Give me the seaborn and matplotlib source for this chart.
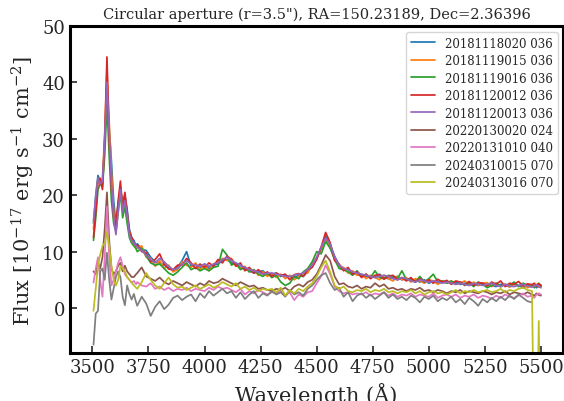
import numpy as np
import pandas as pd
import matplotlib
matplotlib.use("Agg")
import matplotlib.pyplot as plt
import seaborn as sns

nan = np.nan
# wavelength grid (Angstrom)
wave = (list(range(3505, 3700, 10)) + list(range(3700, 5460, 20))
        + [5460, 5470, 5480, 5490, 5500])

labels = ["20181118020 036", "20181119015 036", "20181119016 036",
          "20181120012 036", "20181120013 036", "20220130020 024",
          "20220131010 040", "20240310015 070", "20240313016 070"]

s_20181118020 = [
    15, 20, 23.5, 22.5, 22, 29, 38.5, 32, 26, 19, 15, 18.5, 21, 19, 20, 17.5, 14, 12.5, 12, 11,
    11.4, 10.4, 10.2, 9.0, 8.2, 8.0, 7.6, 7.2, 6.6, 7.2,
    8.4, 10.0, 7.4, 7.8, 7.0, 7.8, 7.0, 7.6, 7.8, 8.4,
    8.6, 8.0, 7.8, 7.2, 7.0, 6.6, 6.2, 6.4, 6.6, 5.8,
    6.0, 6.2, 5.6, 5.8, 5.6, 5.4, 5.8, 5.6, 6.4, 7.4,
    8.8, 10.6, 12.8, 11.2, 9.2, 7.6, 7.0, 6.8, 6.2, 6.0,
    5.8, 5.6, 5.4, 5.6, 6.0, 5.4, 5.2, 5.4, 5.6, 5.0,
    5.2, 4.8, 5.0, 4.6, 5.0, 4.4, 4.8, 4.4, 4.6, 4.8,
    4.4, 4.6, 4.2, 4.4, 4.6, 4.2, 4.0, 4.4, 4.2, 4.0,
    3.8, 4.2, 4.0, 3.8, 4.2, 4.0, 3.6, 4.0,
    3.8, 4.0, 3.6, 3.9, 3.8]

s_20181119015 = [
    14, 19, 23, 22, 23, 31, 42, 33, 24, 17, 14, 18, 21.5, 18, 19, 16, 13.5, 12, 11.5, 10.5,
    10.6, 11.0, 9.0, 8.8, 7.4, 8.4, 7.0, 7.6, 6.4, 6.8,
    8.2, 7.6, 7.2, 8.0, 6.8, 7.6, 6.6, 7.8, 8.2, 8.8,
    8.4, 8.8, 7.6, 7.0, 7.4, 6.4, 6.8, 5.8, 6.4, 5.6,
    6.2, 5.4, 6.0, 5.2, 5.8, 5.0, 5.6, 6.2, 6.2, 7.8,
    9.0, 10.4, 12.2, 10.8, 9.0, 7.2, 7.2, 6.2, 6.6, 5.8,
    6.0, 5.2, 5.8, 5.4, 5.0, 5.8, 5.2, 4.8, 5.6, 5.0,
    5.4, 4.6, 5.2, 4.8, 4.4, 5.0, 4.8, 4.2, 4.8, 4.4,
    4.8, 4.2, 4.4, 4.8, 4.0, 4.6, 4.0, 4.4, 4.5, 3.8,
    4.4, 3.8, 4.2, 3.7, 4.3, 3.9, 4.2, 3.6,
    4.0, 3.8, 4.2, 3.7, 4.1]

s_20181119016 = [
    12, 16, 21, 22, 21.5, 27, 36.5, 27, 19, 15, 13.5, 17, 20.5, 16, 18, 15, 12.5, 11.5, 11, 10.5,
    10.0, 10.6, 9.2, 8.0, 7.6, 7.8, 7.0, 6.2, 5.8, 6.4,
    7.2, 8.0, 6.8, 7.2, 6.6, 7.0, 6.6, 7.2, 7.4, 10.4,
    9.4, 7.6, 8.0, 6.8, 7.2, 6.4, 6.8, 6.0, 5.6, 6.2,
    5.4, 5.8, 4.6, 4.0, 4.4, 5.6, 5.2, 6.4, 7.0, 8.2,
    10.0, 9.6, 11.8, 10.6, 8.6, 7.0, 6.8, 6.4, 5.8, 6.6,
    5.6, 6.0, 5.4, 6.6, 5.4, 5.2, 5.8, 5.6, 5.2, 6.6,
    5.0, 5.2, 4.6, 5.6, 4.6, 5.2, 6.0, 4.6, 4.8, 4.4,
    4.8, 4.2, 4.6, 4.0, 4.4, 3.8, 4.6, 4.2, 3.6, 4.0,
    4.4, 3.8, 4.2, 4.0, 4.6, 3.8, 4.4, 4.0,
    4.2, 3.6, 4.0, 4.4, 3.9]

s_20181120012 = [
    12.5, 17, 22.5, 23, 21, 30, 44.5, 30, 21, 16, 14.5, 19, 22.5, 17.5, 20.5, 17, 13.5, 12.5, 11.5, 11,
    11.2, 10.0, 9.8, 8.2, 8.6, 9.6, 7.8, 6.9, 6.8, 7.6,
    7.6, 8.8, 8.0, 7.0, 7.8, 7.2, 8.0, 7.4, 8.6, 8.0,
    9.2, 8.6, 7.4, 8.0, 6.6, 7.2, 6.2, 6.8, 6.0, 6.4,
    5.6, 6.2, 5.8, 6.0, 5.0, 5.9, 6.1, 5.6, 6.8, 7.2,
    8.6, 10.8, 13.4, 11.6, 8.4, 7.8, 6.6, 7.2, 6.0, 6.4,
    5.4, 6.0, 5.2, 5.8, 5.9, 5.1, 5.6, 5.8, 5.0, 5.4,
    4.8, 5.4, 4.6, 5.2, 4.7, 5.0, 4.4, 5.1, 4.6, 4.9,
    4.2, 4.8, 4.6, 4.1, 4.7, 4.0, 4.5, 4.4, 3.9, 4.6,
    4.2, 4.8, 3.8, 4.4, 4.2, 4.7, 3.9, 4.3,
    4.1, 4.4, 3.9, 4.3, 4.0]

s_20181120013 = [
    15.5, 19.5, 23, 22, 22.5, 30, 40, 31, 22, 16, 13, 17, 21, 17, 19, 16.5, 13, 12, 11.5, 11,
    10.8, 10.2, 9.4, 8.6, 8.0, 8.8, 8.2, 7.4, 6.8, 7.0,
    7.8, 8.4, 7.8, 7.6, 7.4, 7.8, 7.4, 7.8, 8.0, 8.6,
    9.0, 8.4, 8.0, 7.6, 7.2, 6.8, 6.6, 6.4, 6.0, 6.2,
    6.2, 6.0, 5.8, 5.6, 5.6, 5.8, 6.0, 6.2, 6.8, 7.6,
    9.0, 10.8, 12.4, 11.4, 9.0, 7.6, 7.0, 6.8, 6.4, 6.2,
    6.0, 5.8, 5.6, 5.4, 5.6, 5.8, 5.6, 5.2, 5.0, 5.4,
    5.2, 4.8, 4.6, 5.0, 4.8, 4.6, 4.8, 4.6, 4.4, 4.6,
    4.4, 4.2, 4.4, 4.2, 4.0, 4.4, 4.2, 4.0, 4.2, 4.4,
    4.0, 3.8, 4.2, 3.9, 3.8, 4.0, 4.2, 3.9,
    3.7, 3.9, 4.1, 3.8, 3.6]

s_20220130020 = [
    6.5, 6.0, 8.0, 7.0, 9.0, 14.0, 20.5, 12.0, 7.0, 6.0, 6.5, 7.5, 8.0, 6.5, 7.5, 6.5, 6.0, 5.5, 5.5, 6.0,
    6.2, 7.2, 5.6, 5.2, 4.8, 5.4, 4.6, 4.2, 4.8, 4.4,
    4.0, 4.6, 4.2, 3.8, 4.4, 4.0, 4.8, 4.4, 4.6, 5.2,
    4.8, 4.4, 4.0, 4.6, 4.2, 3.8, 4.0, 3.4, 3.6, 3.2,
    3.0, 3.4, 3.2, 3.6, 3.0, 3.8, 4.2, 3.8, 4.6, 5.0,
    6.0, 7.6, 9.4, 8.4, 5.6, 4.2, 4.4, 3.8, 3.6, 4.0,
    3.4, 3.8, 3.6, 4.4, 3.8, 4.2, 3.4, 3.6, 3.2, 3.4,
    3.0, 3.4, 3.2, 3.6, 3.0, 3.2, 2.8, 3.2, 3.0, 2.6,
    3.0, 2.8, 3.2, 2.6, 3.0, 2.8, 2.6, 3.0, 2.8, 2.4,
    2.8, 2.6, 3.0, 2.4, 2.8, 2.6, 2.4, 2.8,
    2.4, 2.2, 2.6, 2.3, 2.2]

s_20220131010 = [
    4.5, 7.0, 9.0, 5.0, 2.0, 9.0, 18.0, 9.0, 4.0, 5.0, 6.5, 8.0, 9.0, 7.5, 6.0, 5.5, 5.0, 4.5, 4.8, 4.2,
    4.6, 4.0, 3.8, 4.4, 3.4, 3.8, 3.2, 3.6, 3.0, 3.4,
    3.2, 3.6, 3.0, 3.4, 3.2, 3.0, 3.6, 3.2, 3.8, 3.4,
    3.6, 3.2, 2.8, 3.4, 2.4, 3.0, 2.6, 3.2, 2.8, 2.4,
    2.8, 2.6, 3.0, 2.2, 2.8, 1.4, 2.4, 2.0, 2.8, 3.0,
    4.4, 5.6, 7.6, 6.0, 3.8, 3.0, 2.6, 2.8, 2.4, 2.6,
    2.4, 2.8, 2.2, 2.6, 2.4, 2.8, 2.2, 2.6, 2.0, 2.4,
    2.2, 2.6, 2.0, 2.4, 2.2, 2.0, 2.6, 1.8, 2.2, 2.4,
    2.0, 2.4, 1.8, 2.2, 2.0, 2.4, 1.8, 2.2, 2.0, 1.6,
    2.2, 1.8, 2.4, 2.0, 1.8, 2.2, 2.6, 2.0,
    2.2, 1.8, 2.4, 2.6, 2.4]

s_20240310015 = [
    -6.5, -1.0, -0.5, 6.5, 7.0, 5.0, 9.8, 5.0, 1.5, 3.5, 5.5, 6.5, 5.5, 2.0, 0.5, 4.0, 2.5, 1.5, 2.5, 1.0,
    0.4, 2.0, 0.8, -1.4, 0.2, 1.2, -0.2, 0.6, 1.8, 2.2,
    1.4, 2.0, 2.4, 1.2, 2.6, 1.8, 3.0, 2.2, 2.8, 3.4,
    2.6, 3.0, 1.8, 2.8, 1.6, 2.4, 3.0, 1.8, 2.6, 2.2,
    3.0, 2.4, 2.8, 2.0, 3.2, 2.4, 2.8, 2.2, 3.4, 4.0,
    5.0, 5.8, 6.2, 4.4, 3.2, 3.6, 2.0, 2.8, 1.2, 2.2,
    2.6, 1.8, 2.4, 1.6, 2.2, 2.8, 1.8, 2.4, 1.6, 2.0,
    1.4, 2.2, 1.8, 1.0, 2.0, 1.6, 2.2, 1.2, 1.8, 1.4,
    2.0, 1.0, 1.6, 0.7, 1.8, 1.2, 0.4, 1.6, 1.0, 1.8,
    1.2, 2.0, 1.4, 2.2, 1.6, 2.4, 1.8, 1.2,
    1.0, nan, nan, nan, nan]

s_20240313016 = [
    -0.5, 3.5, 7.5, 9.5, 11.0, 11.5, 13.5, 11.0, 7.5, 5.0, 4.0, 5.0, 7.5, 7.0, 6.5, 5.5, 5.0, 4.5, 4.0, 3.6,
    3.4, 4.6, 6.2, 5.0, 4.0, 3.4, 4.4, 5.4, 4.2, 3.6,
    3.8, 3.2, 3.6, 4.0, 3.4, 3.8, 4.2, 3.6, 4.0, 4.6,
    4.2, 3.8, 4.4, 3.4, 3.8, 3.2, 3.6, 3.0, 3.4, 3.2,
    3.4, 2.8, 3.6, 2.2, 3.2, 2.6, 3.4, 3.0, 3.8, 4.4,
    5.6, 7.2, 8.4, 6.4, 4.0, 3.4, 3.8, 3.0, 2.8, 3.2,
    3.0, 3.4, 2.8, 3.2, 3.0, 3.4, 2.8, 3.0, 2.6, 3.0,
    2.8, 3.2, 2.6, 3.0, 2.4, 2.8, 3.0, 2.6, 2.8, 2.4,
    2.8, 3.2, 2.6, 3.0, 2.8, 3.2, 2.8, 3.0, 3.2, 2.8,
    3.0, 3.4, 2.8, 3.2, 3.0, 3.4, 3.6, 3.2,
    3.0, -30.0, -30.0, -2.3, -30.0]

series = [s_20181118020, s_20181119015, s_20181119016, s_20181120012,
          s_20181120013, s_20220130020, s_20220131010, s_20240310015,
          s_20240313016]

frames = []
for lab, vals in zip(labels, series):
    frames.append(pd.DataFrame({"wave": wave, "flux": vals, "obs": lab}))
df = pd.concat(frames, ignore_index=True).dropna()

sns.set_style("white")
plt.rcParams["font.family"] = ["DejaVu Serif"]
plt.rcParams["mathtext.fontset"] = "dejavuserif"

fig = plt.figure(figsize=(5.64, 4.02), dpi=100)
ax = fig.add_axes([0.124, 0.119, 0.875, 0.814])

sns.lineplot(data=df, x="wave", y="flux", hue="obs", hue_order=labels,
             palette=sns.color_palette("tab10", 9), estimator=None,
             sort=True, linewidth=1.25, ax=ax)

ax.set_xlim(3400, 5600)
ax.set_ylim(-8, 50)
ax.set_xticks([3500, 3750, 4000, 4250, 4500, 4750, 5000, 5250, 5500])
ax.set_yticks([0, 10, 20, 30, 40, 50])
ax.tick_params(direction="in", labelsize=13, length=5, width=1.2,
               left=True, bottom=True)
for sp in ax.spines.values():
    sp.set_linewidth(2.2)
    sp.set_color("black")

ax.set_xlabel("Wavelength (Å)", fontsize=15)
ax.set_ylabel(r"Flux [$10^{-17}$ erg s$^{-1}$ cm$^{-2}$]", fontsize=15)
ax.set_title('Circular aperture (r=3.5"), RA=150.23189, Dec=2.36396',
             fontsize=10.5, pad=6)

handles, labs = ax.get_legend_handles_labels()
ax.legend(handles, labs, loc="upper right", fontsize=8.5, labelspacing=0.38,
          handletextpad=0.85, frameon=True)

fig.savefig("out.png", dpi=100)
